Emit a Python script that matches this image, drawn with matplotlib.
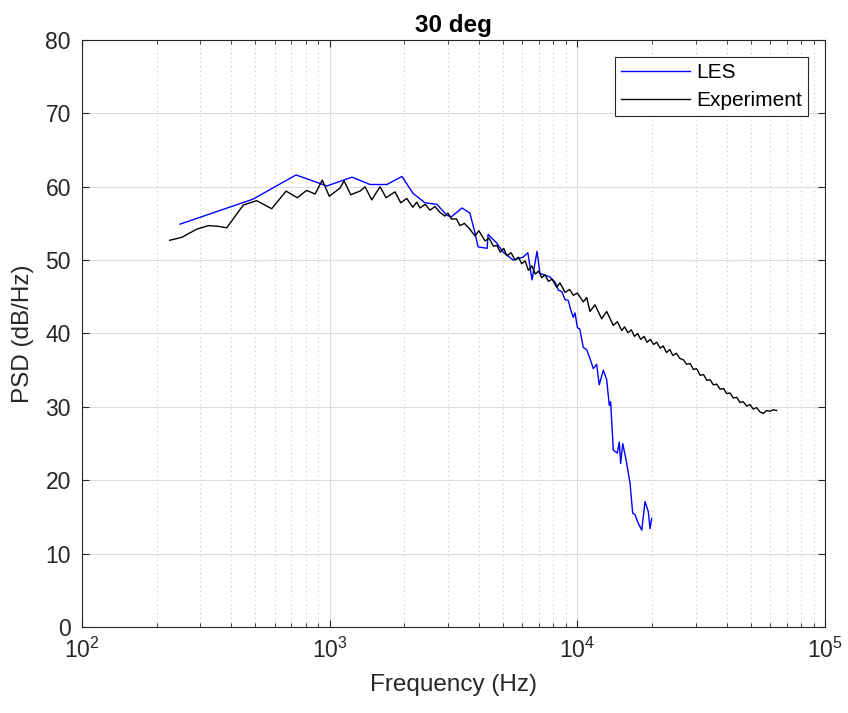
import matplotlib.pyplot as plt
import numpy as np

# LES spectrum (blue)
les_f = [249, 490, 731, 975, 1230, 1455, 1702, 1958, 2168, 2426, 2710, 2970, 3100,
         3420, 3680, 3860, 3970, 4320, 4360, 4730, 5010, 5500, 6030, 6310, 6560,
         6870, 7060, 7750, 8120, 8380, 8650, 8920, 9190, 9400, 9630, 9780, 10000,
         10230, 10560, 10900, 11240, 11590, 11960, 12250, 12720, 13130, 13450,
         13620, 13960, 14490, 14760, 14950, 15240, 15720, 16310, 16720, 17080,
         17630, 18190, 18750, 19340, 19640, 19950]
les_psd = [54.9, 58.3, 61.6, 60.1, 61.3, 60.3, 60.3, 61.4, 59.1, 57.8, 57.6, 56.1, 55.9,
           57.1, 56.4, 53.7, 51.8, 51.6, 53.5, 52.3, 51.1, 50.0, 50.4, 51.0, 47.3,
           51.2, 48.2, 47.7, 47.0, 45.9, 45.7, 44.6, 44.5, 43.2, 42.2, 42.8, 40.8,
           40.6, 38.1, 37.8, 36.6, 35.2, 35.8, 33.0, 35.0, 33.7, 30.2,
           30.7, 24.1, 23.7, 25.2, 22.3, 25.0, 22.8, 19.6, 15.5, 15.3,
           14.1, 13.2, 17.1, 15.7, 13.4, 14.8]

# Experiment spectrum (black)
exp_f = [226, 253, 290, 324, 355, 384, 448, 507, 583, 667, 740, 807, 873, 933, 996,
         1060, 1100, 1143, 1216, 1326, 1389, 1478, 1597, 1688, 1836, 1935, 2047,
         2165, 2245, 2315, 2430, 2540, 2660, 2786, 2915, 3000, 3100, 3250, 3356,
         3500, 3680, 3860, 4000, 4240, 4400, 4580, 4730, 4880, 5040, 5190, 5400,
         5600, 5780, 5960, 6150, 6340, 6550, 6760, 6970, 7180, 7400, 7640, 7900,
         8250, 8500, 8920, 9300, 9630, 10000, 10570, 10900, 11240, 11780, 12530,
         13130, 13960, 14500, 15100, 15500, 16000, 16500, 17000, 17500, 18000,
         18600, 19100, 19700, 20300, 20900, 21600, 22200, 22900, 23600, 24300,
         25100, 25900, 26800, 27600, 28500, 29400, 30300, 31300, 32300, 33300,
         34300, 35400, 36500, 37700, 38900, 40100, 41300, 42600, 44000, 45300,
         46700, 48200, 49700, 51300, 52900, 54600, 56300, 58000, 59900, 61800, 63700]
exp_psd = [52.7, 53.1, 54.2, 54.7, 54.6, 54.4, 57.5, 58.1, 57.0, 59.4, 58.5, 59.5, 59.0,
           60.9, 58.7, 59.4, 59.8, 60.8, 58.9, 59.4, 60.0, 58.2, 60.0, 58.5, 59.3,
           57.8, 58.4, 57.2, 57.9, 57.1, 57.6, 56.8, 57.3, 56.5, 56.0, 56.4, 55.6,
           55.6, 54.7, 55.0, 54.2, 53.3, 54.0, 52.6, 53.0, 51.9, 52.0, 51.1, 51.6,
           50.6, 51.0, 50.0, 50.4, 49.5, 49.9, 48.6, 49.2, 48.1, 48.5, 47.6, 48.0,
           47.1, 47.4, 46.3, 46.9, 45.6, 46.0, 45.2, 45.5, 44.3, 44.9, 43.0, 43.9,
           42.0, 43.0, 41.1, 41.6, 40.4, 40.9, 40.1, 40.5, 39.6, 40.0, 39.2, 39.6,
           38.8, 39.2, 38.5, 38.8, 38.0, 38.3, 37.4, 37.8, 37.0, 37.3, 36.6, 36.4,
           35.8, 35.9, 35.1, 35.2, 34.3, 34.4, 33.6, 33.7, 33.0, 33.1, 32.4, 32.5,
           31.8, 31.9, 31.2, 31.3, 30.6, 30.7, 30.1, 30.3, 29.7, 29.9, 29.3, 29.1,
           29.5, 29.4, 29.6, 29.5]

plt.rcParams['font.family'] = ['Liberation Sans', 'DejaVu Sans']
plt.rcParams['mathtext.fontset'] = 'custom'
plt.rcParams['mathtext.rm'] = 'Liberation Sans'

fig = plt.figure(figsize=(8.48, 7.13), dpi=100)
ax = fig.add_axes([0.0967, 0.1206, 0.8763, 0.8234])

ax.semilogx(les_f, les_psd, color='#0000ff', lw=1.0, label='LES')
ax.semilogx(exp_f, exp_psd, color='black', lw=1.0, label='Experiment')

ax.set_xlim(1e2, 1e5)
ax.set_ylim(0, 80)
ax.set_yticks(np.arange(0, 81, 10))

ax.grid(True, which='major', color='#dcdcdc', lw=0.8)
ax.grid(True, which='minor', axis='x', color='#c8c8c8', lw=0.8, linestyle=(0, (1, 3)))
ax.set_axisbelow(True)

ax.tick_params(which='both', direction='in', top=True, right=True,
               labelsize=16.5, colors='#262626', pad=8)
ax.tick_params(which='major', length=5)
ax.tick_params(which='minor', length=3)
for s in ax.spines.values():
    s.set_color('#262626')
    s.set_linewidth(0.8)

ax.set_xlabel('Frequency (Hz)', fontsize=17.5, color='#262626', labelpad=8)
ax.set_ylabel('PSD (dB/Hz)', fontsize=17.5, color='#262626', labelpad=8)
ax.set_title('30 deg', fontsize=17.5, fontweight='bold', color='black', pad=6)

leg = ax.legend(loc='upper right', fontsize=15, fancybox=False, framealpha=1,
                edgecolor='#262626', borderaxespad=0.8, handlelength=3.3,
                handletextpad=0.3, borderpad=0.3, labelspacing=0.45)
leg.get_frame().set_linewidth(0.8)

plt.savefig('out.png', dpi=100)
